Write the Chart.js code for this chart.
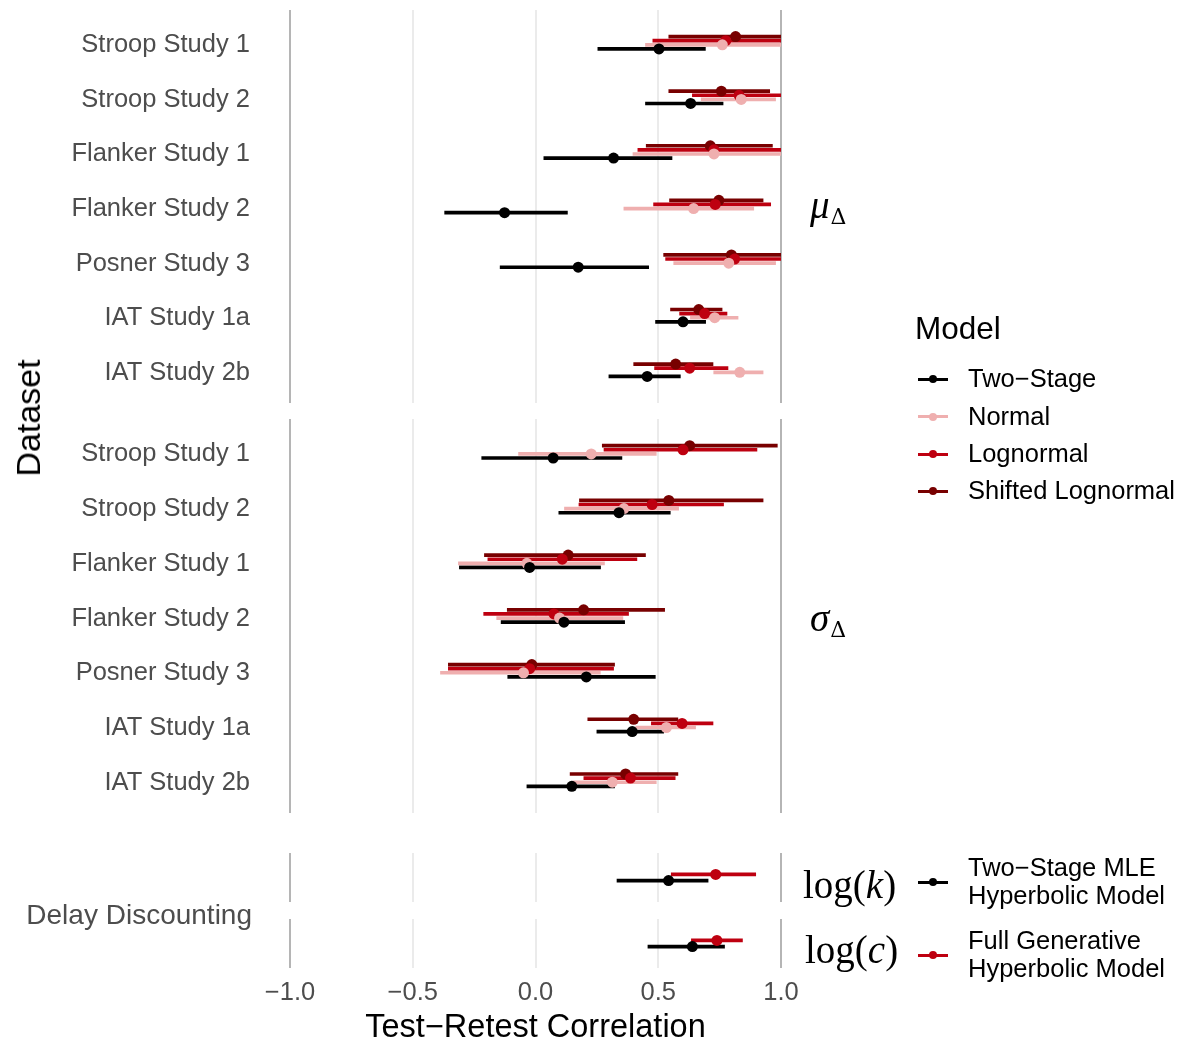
<!DOCTYPE html>
<html>
<head>
<meta charset="utf-8">
<script src="https://cdn.jsdelivr.net/npm/chart.js@4.4.1/dist/chart.umd.min.js"></script>
<style>
html,body{margin:0;padding:0;background:#fff;}
#wrap{position:relative;width:1186px;height:1044px;overflow:hidden;font-family:'Liberation Sans',Arial,sans-serif;}
canvas{position:absolute;left:0;}
.t{position:absolute;line-height:1;white-space:nowrap;color:#000;}
.sans{font-family:'Liberation Sans',Arial,sans-serif;}
.serif{font-family:'Liberation Serif','DejaVu Serif',serif;}
.key{position:absolute;width:30px;height:20px;}
.key .ln{position:absolute;left:0;top:8.5px;width:30px;height:3px;}
.key .dt{position:absolute;left:11px;top:6px;width:8px;height:8px;border-radius:50%;}
</style>
</head>
<body>
<div id="wrap">
<canvas id="cMu" width="1186" height="393" style="top:10px"></canvas>
<canvas id="cSigma" width="1186" height="394" style="top:419px"></canvas>
<canvas id="cLogk" width="1186" height="49" style="top:853px"></canvas>
<canvas id="cLogc" width="1186" height="125" style="top:919px"></canvas>
<div id="overlay"></div>
</div>
<script>
// ---------------- data ----------------
const studies = ['Stroop Study 1','Stroop Study 2','Flanker Study 1','Flanker Study 2','Posner Study 3','IAT Study 1a','IAT Study 2b'];
const modelNames = ['Two\u2212Stage','Normal','Lognormal','Shifted Lognormal'];
const ddModelNames = ['Two\u2212Stage MLE\nHyperbolic Model','Full Generative\nHyperbolic Model'];
const ddLabel = 'Delay Discounting';
const xTickValues = [-1, -0.5, 0, 0.5, 1];
const xTickLabels = ['\u22121.0','\u22120.5','0.0','0.5','1.0'];
const xTitle = 'Test\u2212Retest Correlation';
const yTitle = 'Dataset';
const legendTitle = 'Model';

// each row: [lower, estimate, upper], rows follow `studies`
const muTwoStage = [[0.254,0.503,0.692],[0.448,0.632,0.764],[0.034,0.318,0.556],[-0.370,-0.126,0.130],[-0.144,0.174,0.461],[0.489,0.601,0.693],[0.299,0.455,0.590]];
const muNormal = [[0.448,0.761,1.0],[0.675,0.838,0.978],[0.397,0.727,1.0],[0.360,0.644,0.889],[0.563,0.787,0.978],[0.631,0.730,0.825],[0.726,0.832,0.927]];
const muLognormal = [[0.478,0.775,1.0],[0.639,0.829,1.0],[0.417,0.727,1.0],[0.481,0.732,0.958],[0.530,0.811,1.0],[0.587,0.689,0.780],[0.485,0.628,0.784]];
const muShifted = [[0.543,0.815,1.0],[0.543,0.757,0.954],[0.451,0.712,0.965],[0.546,0.747,0.927],[0.522,0.798,1.0],[0.550,0.665,0.760],[0.400,0.571,0.723]];

const sigmaTwoStage = [[-0.219,0.072,0.352],[0.095,0.340,0.549],[-0.310,-0.024,0.265],[-0.140,0.116,0.363],[-0.113,0.207,0.488],[0.250,0.394,0.522],[-0.035,0.148,0.322]];
const sigmaNormal = [[-0.069,0.227,0.492],[0.118,0.360,0.583],[-0.314,-0.035,0.281],[-0.158,0.098,0.356],[-0.387,-0.049,0.264],[0.408,0.533,0.652],[0.152,0.313,0.492]];
const sigmaLognormal = [[0.279,0.601,0.902],[0.177,0.475,0.766],[-0.194,0.109,0.413],[-0.211,0.075,0.379],[-0.355,-0.024,0.318],[0.472,0.597,0.723],[0.197,0.387,0.569]];
const sigmaShifted = [[0.272,0.628,0.985],[0.179,0.543,0.927],[-0.208,0.133,0.448],[-0.115,0.196,0.526],[-0.355,-0.015,0.322],[0.213,0.400,0.580],[0.141,0.367,0.580]];

const logkTwoStage = [[0.332,0.542,0.703]];
const logkFull = [[0.553,0.734,0.897]];
const logcTwoStage = [[0.458,0.639,0.770]];
const logcFull = [[0.635,0.739,0.843]];

// ---------------- styles ----------------
const COL = {twoStage:'#000000', normal:'#EFAFAF', lognormal:'#BE0010', shifted:'#780000'};
const PLOT_LEFT = 290, PLOT_RIGHT = 781, CANVAS_W = 1186;
const DODGE = 0.3;
const TICK_FONT = {family:"'Liberation Sans', Arial, sans-serif", size:25.5};
const TICK_COLOR = '#4d4d4d';

function buildPanel(id, catLabels, nCats, series, showX) {
  // series listed top-to-bottom
  const n = series.length;
  const datasets = [];
  series.forEach((s, k) => {
    const off = (k - (n - 1) / 2) * DODGE / n;
    datasets.push({
      type:'bar', indexAxis:'y', grouped:false, order:100,
      data: s.rows.map((r, i) => ({x:[r[0], r[2]], y:i + 1 + off})),
      backgroundColor: s.color, borderWidth:0, borderSkipped:false,
      maxBarThickness:3, barPercentage:1, categoryPercentage:1
    });
    datasets.push({
      type:'scatter', order:10 + (n - k),
      data: s.rows.map((r, i) => ({x:r[1], y:i + 1 + off})),
      backgroundColor: s.color, borderWidth:0, pointRadius:5.5, pointHoverRadius:5.5
    });
  });
  return new Chart(document.getElementById(id), {
    type:'bar',
    data:{datasets},
    options:{
      responsive:false, animation:false, events:[],
      layout:{padding:{left:0, right:CANVAS_W - PLOT_RIGHT, top:0, bottom:0}, autoPadding:false},
      plugins:{legend:{display:false}, tooltip:{enabled:false}},
      scales:{
        x:{
          type:'linear', position:'bottom', min:-1, max:1, bounds:'data', offset:false, beginAtZero:false,
          afterBuildTicks: sc => { sc.ticks = xTickValues.map(v => ({value:v})); },
          grid:{display:true, drawTicks:false, lineWidth:2, offset:false,
            color: c => (c.tick && Math.abs(c.tick.value) === 1) ? '#b5b5b5' : '#ebebeb'},
          border:{display:false},
          ticks:{display:showX, color:TICK_COLOR, font:TICK_FONT, padding:10, maxRotation:0,
            callback:(v, i) => xTickLabels[i]},
          title:{display:showX, text:xTitle, color:'#000',
            font:{family:"'Liberation Sans', Arial, sans-serif", size:32.5, lineHeight:1}, padding:{top:0,bottom:0}},
          afterFit: sc => { sc.height = showX ? 125 - 49 : 0; sc.paddingLeft = 0; sc.paddingRight = 0; }
        },
        y:{
          type:'linear', position:'left', reverse:true, min:0.4, max:nCats + 0.6, bounds:'data', offset:false, beginAtZero:false,
          afterBuildTicks: sc => { sc.ticks = Array.from({length:nCats}, (_, i) => ({value:i + 1})); },
          grid:{display:false, drawTicks:false, offset:false},
          border:{display:false},
          ticks:{display:!!catLabels, color:TICK_COLOR, font:TICK_FONT, padding:40, autoSkip:false, labelOffset:2.5,
            callback:(v, i) => catLabels ? catLabels[i] : ''},
          afterFit: sc => { sc.width = PLOT_LEFT; sc.paddingTop = 0; sc.paddingBottom = 0; }
        }
      }
    }
  });
}

buildPanel('cMu', studies, 7, [
  {rows:muShifted, color:COL.shifted},
  {rows:muLognormal, color:COL.lognormal},
  {rows:muNormal, color:COL.normal},
  {rows:muTwoStage, color:COL.twoStage}
], false);
buildPanel('cSigma', studies, 7, [
  {rows:sigmaShifted, color:COL.shifted},
  {rows:sigmaLognormal, color:COL.lognormal},
  {rows:sigmaNormal, color:COL.normal},
  {rows:sigmaTwoStage, color:COL.twoStage}
], false);
buildPanel('cLogk', null, 1, [
  {rows:logkFull, color:COL.lognormal},
  {rows:logkTwoStage, color:COL.twoStage}
], false);
buildPanel('cLogc', null, 1, [
  {rows:logcFull, color:COL.lognormal},
  {rows:logcTwoStage, color:COL.twoStage}
], true);

// ---------------- annotations & legends (real text) ----------------
const ov = document.getElementById('overlay');
function txt(html, left, cy, size, cls, extra) {
  const d = document.createElement('div');
  d.className = 't ' + (cls || 'sans');
  d.style.left = left + 'px';
  d.style.top = (cy - size / 2) + 'px';
  d.style.fontSize = size + 'px';
  if (extra) Object.assign(d.style, extra);
  d.innerHTML = html;
  ov.appendChild(d);
  return d;
}
function key(color, left, cy) {
  const k = document.createElement('div');
  k.className = 'key';
  k.style.left = left + 'px';
  k.style.top = (cy - 10) + 'px';
  k.innerHTML = '<div class="ln" style="background:' + color + '"></div><div class="dt" style="background:' + color + '"></div>';
  ov.appendChild(k);
}
// y-axis title
const yt = txt(yTitle, 0, 0, 34, 'sans');
yt.style.left = '28px'; yt.style.top = '418px';
yt.style.transform = 'translate(-50%,-50%) rotate(-90deg)';
// Delay discounting label (right aligned at 252)
const dd = txt(ddLabel, 0, 915, 28, 'sans', {color:TICK_COLOR});
dd.style.left = ''; dd.style.right = (1186 - 252) + 'px';
// facet labels
const SUB = '<span style="font-family:\'DejaVu Serif\',serif;font-size:22px;position:relative;top:6px;margin-left:1px">\u0394</span>';
txt('<i>\u03bc</i>' + SUB, 810, 204, 39, 'serif');
txt('<i>\u03c3</i>' + SUB, 810, 617, 39, 'serif');
txt('log(<i>k</i>)', 803, 884, 39, 'serif');
txt('log(<i>c</i>)', 805, 949, 39, 'serif');
// Model legend
txt(legendTitle, 915, 329, 31.5, 'sans');
const legCols = [COL.twoStage, COL.normal, COL.lognormal, COL.shifted];
const legY = [379, 416.5, 454, 491];
modelNames.forEach((m, i) => { key(legCols[i], 918, legY[i]); txt(m, 968, legY[i], 25.5, 'sans'); });
// Delay discounting legend
const ddCols = [COL.twoStage, COL.lognormal];
const ddKeyY = [882, 955];
const ddTextY = [[868, 896], [941, 969]];
ddModelNames.forEach((m, i) => {
  key(ddCols[i], 918, ddKeyY[i]);
  m.split('\n').forEach((line, j) => txt(line, 968, ddTextY[i][j], 25.5, 'sans'));
});
</script>
</body>
</html>
